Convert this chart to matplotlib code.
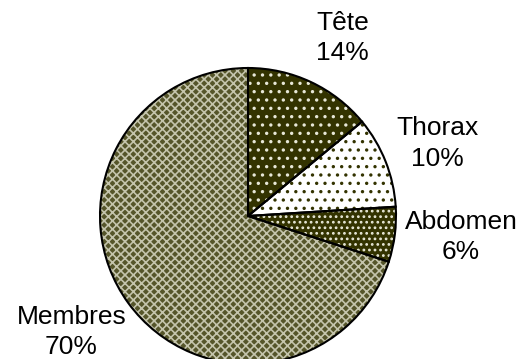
import matplotlib
matplotlib.use("Agg")
import matplotlib.pyplot as plt

labels = ["Tête", "Thorax", "Abdomen", "Membres"]
values = [14, 10, 6, 70]
pct_labels = ["14%", "10%", "6%", "70%"]

face_colors = ["#333300", "#ffffff", "#333300", "#55552a"]
hatch_colors = ["#e8e8d8", "#333300", "#e8e8d8", "#c4c4ac"]
hatches = ["..", "..", "...", "xxxx"]
label_pos = [(0.639, 1.200), (1.280, 0.490), (1.439, -0.140), (-1.193, -0.784)]

plt.rcParams["hatch.linewidth"] = 1.2

fig = plt.figure(figsize=(5.2, 3.59), dpi=100)
W, H = 520, 359
cx, cy, r = 248, 216, 148
ax = fig.add_axes([(cx - r) / W, (H - cy - r) / H, 2 * r / W, 2 * r / H])
ax.set_xlim(-1, 1)
ax.set_ylim(-1, 1)
ax.axis("off")

# base fill
w1, _ = ax.pie(values, colors=face_colors, startangle=90, counterclock=False,
               radius=1, wedgeprops=dict(linewidth=0, edgecolor="none"))
# hatch overlay
w2, _ = ax.pie(values, colors=["none"] * 4, startangle=90, counterclock=False,
               radius=1, wedgeprops=dict(linewidth=0))
for w, hc, h in zip(w2, hatch_colors, hatches):
    w.set_facecolor("none")
    w.set_edgecolor(hc)
    w.set_hatch(h)
    w.set_linewidth(0)
# outlines
w3, _ = ax.pie(values, colors=["none"] * 4, startangle=90, counterclock=False,
               radius=1, wedgeprops=dict(linewidth=1.5, edgecolor="black", fill=False))
ax.set_xlim(-1, 1)
ax.set_ylim(-1, 1)
ax.set_aspect("auto")

for lab, pct, (x, y) in zip(labels, pct_labels, label_pos):
    ax.text(x, y, f"{lab}\n{pct}", ha="center", va="center", fontsize=19,
            family="Liberation Sans", linespacing=1.32, clip_on=False)

fig.savefig("out.png", dpi=100)
